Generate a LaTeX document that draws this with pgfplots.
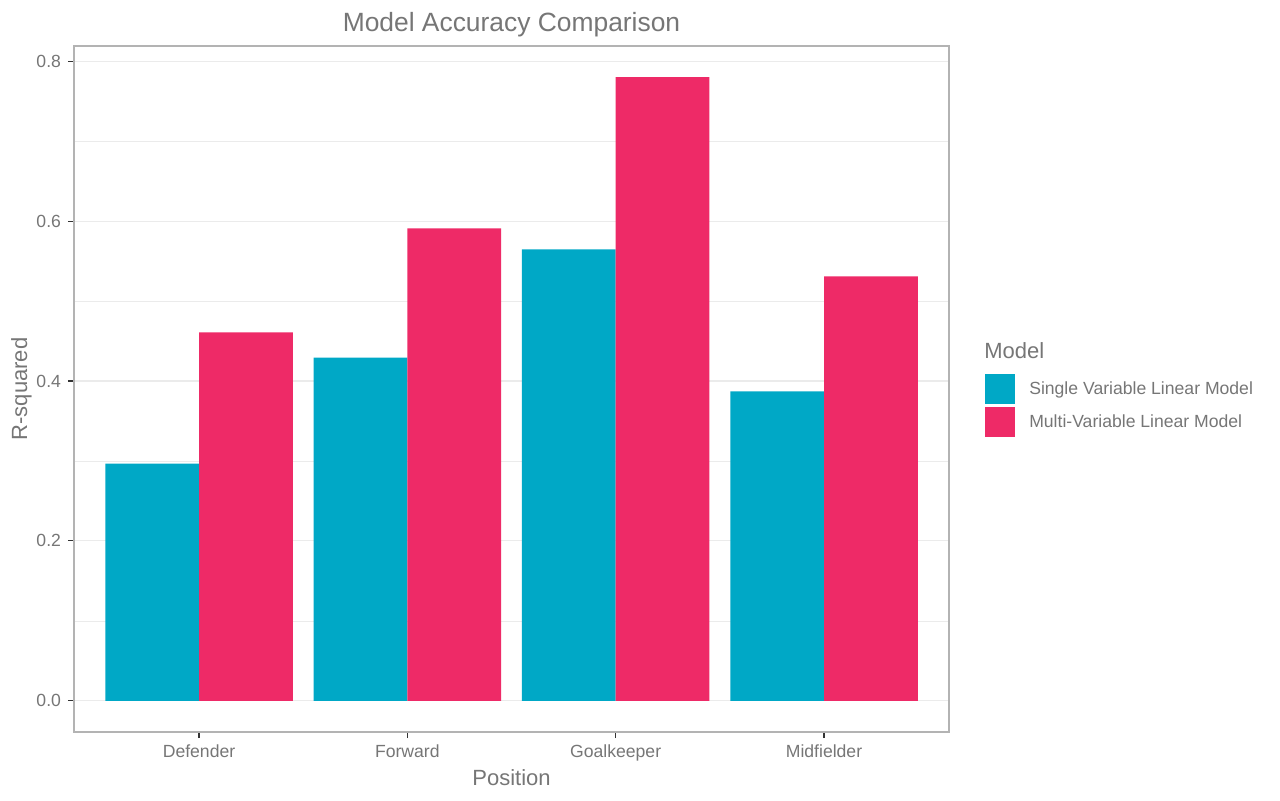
\documentclass[border=0pt]{standalone}
\usepackage{pgfplots}
\pgfplotsset{compat=1.18}
\usepackage{fontspec}
\setmainfont{Liberation Sans}
\definecolor{single}{HTML}{00A8C6}
\definecolor{multi}{HTML}{EE2A67}
\definecolor{txt}{HTML}{767676}
\definecolor{gridc}{HTML}{EBEBEB}
\definecolor{borderc}{HTML}{B3B3B3}
\begin{document}
\begin{tikzpicture}
\useasboundingbox (0,0) rectangle (640pt,400pt);
\begin{axis}[
    at={(37pt,34pt)}, anchor=south west,
    scale only axis, width=437.5pt, height=343pt,
    xmin=-0.6, xmax=3.6,
    ymin=-0.039, ymax=0.819,
    xtick={0,1,2,3},
    xticklabels={Defender,Forward,Goalkeeper,Midfielder},
    ytick={0,0.2,0.4,0.6,0.8},
    minor ytick={0.1,0.3,0.5,0.7},
    yticklabel style={/pgf/number format/.cd,fixed,fixed zerofill,precision=1},
    /pgf/number format/assume math mode=true,
    ymajorgrids, yminorgrids,
    major grid style={gridc, line width=0.55pt},
    minor grid style={gridc, line width=0.3pt},
    axis line style={borderc, line width=0.55pt},
    tick style={black!80, line width=0.55pt},
    major tick length=3pt,
    minor tick length=0pt,
    tick align=outside,
    xtick pos=bottom, ytick pos=left,
    ticklabel style={font=\fontsize{8.8}{10}\selectfont, text=txt},
    xlabel={Position}, ylabel={R-squared},
    label style={font=\fontsize{11}{13}\selectfont, text=txt},
    xlabel style={yshift=3pt},
    ylabel style={yshift=-4.5pt},
    title={Model Accuracy Comparison},
    title style={font=\fontsize{13.2}{15}\selectfont, text=txt, yshift=-5pt},
    legend style={at={(1.041,0.4757)}, anchor=west, draw=none, fill=none,
        font=\fontsize{8.8}{10}\selectfont, text=txt,
        row sep=1.5pt, inner sep=0pt},
    legend cell align=left,
    legend image code/.code={\fill[#1] (0pt,-7.5pt) rectangle (15pt,7.5pt);},
]
\addplot[ybar, fill=single, draw=none, bar width=0.45, bar shift=-0.225]
    coordinates {(0,0.2967) (1,0.4294) (2,0.5646) (3,0.3869)};
\addlegendentry{\hspace{5pt}Single Variable Linear Model}
\addplot[ybar, fill=multi, draw=none, bar width=0.45, bar shift=0.225]
    coordinates {(0,0.4607) (1,0.5910) (2,0.7800) (3,0.5308)};
\addlegendentry{\hspace{5pt}Multi-Variable Linear Model}
\end{axis}
\node[anchor=west, font=\fontsize{11}{13}\selectfont, text=txt, inner sep=0pt]
    at (492pt,224.5pt) {Model};
\end{tikzpicture}
\end{document}
